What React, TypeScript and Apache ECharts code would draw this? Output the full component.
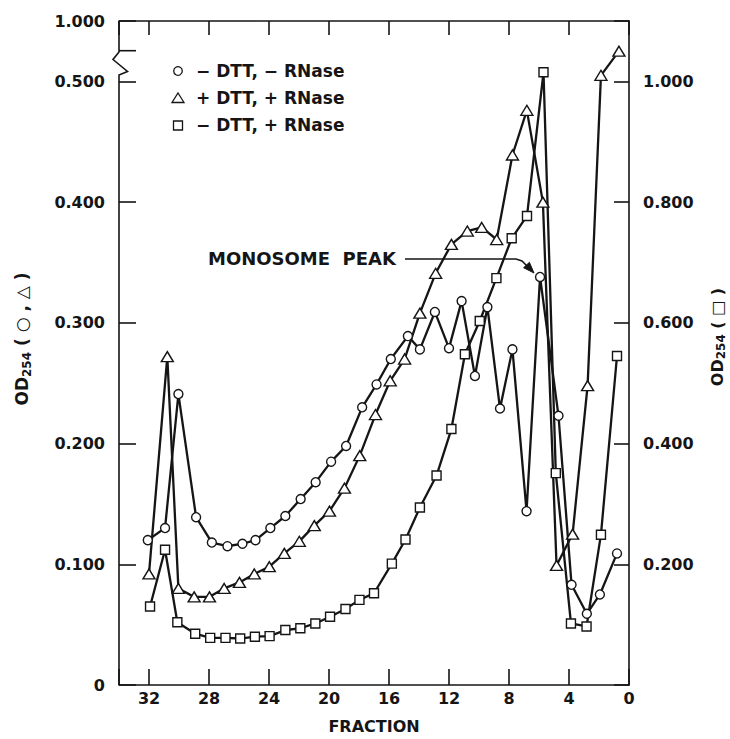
import React, { useEffect, useRef } from 'react';
import * as echarts from 'echarts';

// ---- data ----
const circleFraction = [32.08, 30.93, 30.04, 28.86, 27.81, 26.77, 25.77, 24.9, 23.91, 22.91, 21.89, 20.89, 19.86, 18.86, 17.79, 16.83, 15.88, 14.74, 13.94, 12.94, 12.0, 11.16, 10.27, 9.44, 8.6, 7.77, 6.83, 5.93, 4.7, 3.83, 2.81, 1.94, 0.8];
const circleOD = [0.12, 0.13, 0.241, 0.139, 0.118, 0.115, 0.117, 0.12, 0.13, 0.14, 0.154, 0.168, 0.185, 0.198, 0.23, 0.249, 0.27, 0.289, 0.278, 0.309, 0.279, 0.318, 0.256, 0.313, 0.229, 0.278, 0.144, 0.338, 0.223, 0.083, 0.059, 0.075, 0.109];

const triangleFraction = [32.0, 30.78, 30.04, 28.99, 27.97, 26.99, 25.97, 24.98, 23.98, 22.98, 21.98, 20.98, 19.97, 18.97, 17.95, 16.9, 15.92, 14.96, 13.94, 12.89, 11.84, 10.78, 9.82, 8.82, 7.77, 6.81, 5.74, 4.83, 3.76, 2.76, 1.87, 0.67];
const triangleOD = [0.092, 0.272, 0.08, 0.073, 0.073, 0.08, 0.085, 0.092, 0.098, 0.109, 0.119, 0.132, 0.144, 0.163, 0.19, 0.224, 0.252, 0.27, 0.308, 0.341, 0.365, 0.376, 0.379, 0.369, 0.439, 0.476, 0.4, 0.099, 0.125, 0.248, 0.505, 0.525];

const squareFraction = [31.93, 30.93, 30.11, 28.92, 27.92, 26.9, 25.92, 24.94, 23.96, 22.91, 21.91, 20.91, 19.93, 18.9, 17.97, 17.0, 15.81, 14.9, 13.94, 12.83, 11.84, 10.94, 9.95, 8.84, 7.82, 6.8, 5.7, 4.88, 3.87, 2.83, 1.87, 0.8];
const squareOD = [0.13, 0.224, 0.104, 0.085, 0.078, 0.078, 0.077, 0.08, 0.081, 0.091, 0.094, 0.102, 0.113, 0.126, 0.141, 0.152, 0.201, 0.241, 0.294, 0.347, 0.424, 0.548, 0.603, 0.674, 0.74, 0.777, 1.015, 0.351, 0.102, 0.097, 0.249, 0.545];

const seriesNames = ['− DTT, − RNase', '+ DTT, + RNase', '− DTT, + RNase'];
const leftTopLabel = '1.000';
const xAxisTitle = 'FRACTION';
const annotation = 'MONOSOME  PEAK';

const FONT = '"DejaVu Sans", sans-serif';
const INK = '#151515';

const pairs = (xs: number[], ys: number[]) => xs.map((x, i) => [x, ys[i]]);

function buildOption(): any {
  const lineSeries = (name: string, data: number[][], symbol: string, size: any, yAxisIndex: number) => ({
    type: 'line',
    name,
    data,
    yAxisIndex,
    symbol,
    symbolSize: size,
    showAllSymbol: true,
    lineStyle: { color: INK, width: 2.3 },
    itemStyle: { color: '#fff', borderColor: INK, borderWidth: 1.4 },
    emphasis: { disabled: true },
    clip: false,
  });

  const tickLabel = { color: INK, fontFamily: FONT, fontWeight: 'bold', fontSize: 16 };
  const axisLine = (show: boolean) => ({ show, onZero: false, lineStyle: { color: INK, width: 1.6 } });

  return {
    animation: false,
    backgroundColor: '#fff',
    grid: { left: 119, right: 101, top: 21, bottom: 54 },
    xAxis: [
      {
        type: 'value', min: 0, max: 34, interval: 4, inverse: true, position: 'bottom',
        axisLine: axisLine(true),
        axisTick: { show: true, inside: true, length: 16, lineStyle: { color: INK, width: 1.6 } },
        axisLabel: { ...tickLabel, margin: 5, formatter: (v: number) => (v > 33 ? '' : String(v)) },
        splitLine: { show: false },
        name: xAxisTitle, nameLocation: 'middle', nameGap: 33,
        nameTextStyle: { color: INK, fontFamily: FONT, fontWeight: 'bold', fontSize: 16 },
      },
      {
        type: 'value', min: 0, max: 34, interval: 4, inverse: true, position: 'top',
        axisLine: axisLine(true),
        axisTick: { show: true, inside: true, length: 14, lineStyle: { color: INK, width: 1.6 } },
        axisLabel: { show: false },
        splitLine: { show: false },
      },
    ],
    yAxis: [
      {
        type: 'value', min: 0, max: 0.55, interval: 0.1, position: 'left',
        axisLine: axisLine(false),
        axisTick: { show: true, inside: true, length: 17, lineStyle: { color: INK, width: 1.6 } },
        axisLabel: {
          ...tickLabel, margin: 14,
          formatter: (v: number) => (Math.abs(v - 0.55) < 1e-6 ? leftTopLabel : v === 0 ? '0' : v.toFixed(3)),
        },
        splitLine: { show: false },
      },
      {
        type: 'value', min: 0, max: 1.1, interval: 0.2, position: 'right',
        axisLine: axisLine(true),
        axisTick: { show: true, inside: true, length: 15, lineStyle: { color: INK, width: 1.6 } },
        axisLabel: {
          ...tickLabel, margin: 14,
          formatter: (v: number) => (v < 0.01 || v > 1.05 ? '' : v.toFixed(3)),
        },
        splitLine: { show: false },
      },
    ],
    series: [
      lineSeries(seriesNames[0], pairs(circleFraction, circleOD), 'circle', 9, 0),
      lineSeries(seriesNames[1], pairs(triangleFraction, triangleOD), 'triangle', [12, 10], 0),
      lineSeries(seriesNames[2], pairs(squareFraction, squareOD), 'rect', 9, 1),
    ],
    graphic: [
      // left border with axis break
      {
        type: 'polyline', silent: true,
        shape: { points: [[119, 685], [119, 75], [127.5, 71.5], [113, 59.5], [119, 52], [119, 21]] },
        style: { stroke: INK, lineWidth: 1.6, fill: 'none' },
      },
      { type: 'line', silent: true, shape: { x1: 119, y1: 50.7, x2: 136, y2: 50.7 }, style: { stroke: INK, lineWidth: 1.6 } },
      // legend
      { type: 'circle', shape: { cx: 178, cy: 71, r: 4.3 }, style: { fill: '#fff', stroke: INK, lineWidth: 1.3 } },
      { type: 'polygon', shape: { points: [[178, 93], [184, 102.5], [172, 102.5]] }, style: { fill: '#fff', stroke: INK, lineWidth: 1.3 } },
      { type: 'rect', shape: { x: 173.5, y: 121, width: 9, height: 9 }, style: { fill: '#fff', stroke: INK, lineWidth: 1.3 } },
      { type: 'text', x: 196, y: 71, style: { text: seriesNames[0], fill: INK, fontFamily: FONT, fontWeight: 'bold', fontSize: 17, align: 'left', verticalAlign: 'middle' } },
      { type: 'text', x: 196, y: 98, style: { text: seriesNames[1], fill: INK, fontFamily: FONT, fontWeight: 'bold', fontSize: 17, align: 'left', verticalAlign: 'middle' } },
      { type: 'text', x: 196, y: 125, style: { text: seriesNames[2], fill: INK, fontFamily: FONT, fontWeight: 'bold', fontSize: 17, align: 'left', verticalAlign: 'middle' } },
      // annotation
      { type: 'text', x: 208, y: 258, style: { text: annotation, fill: INK, fontFamily: FONT, fontWeight: 'bold', fontSize: 18, align: 'left', verticalAlign: 'middle' } },
      {
        type: 'polyline', silent: true,
        shape: { points: [[405, 259], [516, 259], [522, 261], [527, 266]] },
        style: { stroke: INK, lineWidth: 1.5, fill: 'none' },
      },
      { type: 'polygon', silent: true, shape: { points: [[534, 273], [523.6, 267.7], [529.4, 262.3]] }, style: { fill: INK, stroke: INK, lineWidth: 1 } },
      // axis titles
      {
        type: 'text', x: 22, y: 339, rotation: Math.PI / 2,
        style: {
          text: '{a|OD}{b|254}{a| ( ○ , △ )}', align: 'center', verticalAlign: 'middle',
          rich: {
            a: { fontFamily: FONT, fontWeight: 'bold', fontSize: 17, fill: INK },
            b: { fontFamily: FONT, fontWeight: 'bold', fontSize: 12, fill: INK, padding: [9, 0, 0, 0] },
          },
        },
      },
      {
        type: 'text', x: 717, y: 337, rotation: Math.PI / 2,
        style: {
          text: '{a|OD}{b|254}{a| ( □ )}', align: 'center', verticalAlign: 'middle',
          rich: {
            a: { fontFamily: FONT, fontWeight: 'bold', fontSize: 16, fill: INK },
            b: { fontFamily: FONT, fontWeight: 'bold', fontSize: 12, fill: INK, padding: [8, 0, 0, 0] },
          },
        },
      },
    ],
  };
}

export default function App() {
  const ref = useRef<HTMLDivElement>(null);
  useEffect(() => {
    if (!ref.current) return;
    const chart = echarts.init(ref.current, null, { renderer: 'svg' });
    chart.setOption(buildOption());
    return () => chart.dispose();
  }, []);
  return (
    <div
      ref={ref}
      style={{ position: 'fixed', left: 0, top: 0, width: 730, height: 739, background: '#fff' }}
    />
  );
}
